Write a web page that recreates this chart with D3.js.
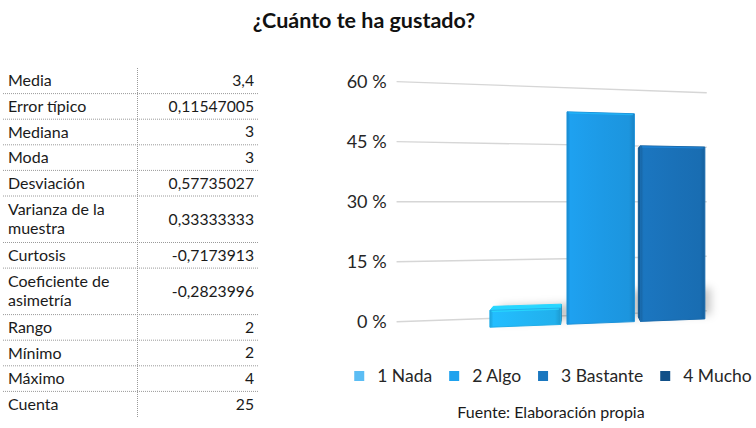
<!DOCTYPE html>
<html>
<head>
<meta charset="utf-8">
<script src="https://cdn.jsdelivr.net/npm/d3@7"></script>
<style>
  body { margin: 0; background: #ffffff; }
  svg { display: block; }
</style>
</head>
<body>
<svg id="chart" width="756" height="428"></svg>
<script>
// ---- data ----
const chartTitle = "¿Cuánto te ha gustado?";
const statNames = [
  ["Media"], ["Error típico"], ["Mediana"], ["Moda"], ["Desviación"],
  ["Varianza de la", "muestra"], ["Curtosis"], ["Coeficiente de", "asimetría"],
  ["Rango"], ["Mínimo"], ["Máximo"], ["Cuenta"]
];
const statValues = [
  "3,4", "0,11547005", "3", "3", "0,57735027", "0,33333333",
  "-0,7173913", "-0,2823996", "2", "2", "4", "25"
];
const series = ["1 Nada", "2 Algo", "3 Bastante", "4 Mucho"];
const shares = [4, 52, 44, 0];
const yTicks = [0, 15, 30, 45, 60];
const yTickLabels = ["0 %", "15 %", "30 %", "45 %", "60 %"];
const sourceNote = "Fuente: Elaboración propia";

// ---- styles ----
const FONT = "Lato, 'Open Sans', 'Noto Sans', sans-serif";
const barColors = ["#22b6f5", "#1d9ae6", "#1a71b8", "#135a96"];
const legendColors = ["#5bbdf4", "#1fa2ee", "#1a77bf", "#115088"];

const svg = d3.select("#chart");
const defs = svg.append("defs");

// ---- title ----
svg.append("text")
  .attr("x", 364).attr("y", 28)
  .attr("text-anchor", "middle")
  .attr("font-family", FONT).attr("font-weight", 700).attr("font-size", 21.5)
  .attr("fill", "#111")
  .text(chartTitle);

// ---- statistics table ----
const table = svg.append("g");
const tableTop = 68, tableLeft = 3, tableRight = 258, dividerX = 137.5;
let yAcc = tableTop;
const rows = statNames.map((lines, i) => {
  const h = lines.length === 1 ? 25.6 : 46.5;
  const r = { lines, value: statValues[i], y0: yAcc, h };
  yAcc += h;
  return r;
});
const tableBottom = yAcc;

rows.forEach((r, i) => {
  if (i < rows.length - 1) {
    table.append("line")
      .attr("x1", tableLeft).attr("x2", tableRight)
      .attr("y1", r.y0 + r.h).attr("y2", r.y0 + r.h)
      .attr("stroke", "#9a9a9a").attr("stroke-width", 1)
      .attr("stroke-dasharray", "1,1");
  }
  const cy = r.y0 + r.h / 2;
  r.lines.forEach((ln, j) => {
    const off = r.lines.length === 1 ? 0 : (j === 0 ? -9.5 : 9.5);
    table.append("text")
      .attr("x", 8).attr("y", cy + off).attr("dy", "0.35em")
      .attr("font-family", FONT).attr("font-size", 16).attr("fill", "#1a1a1a")
      .text(ln);
  });
  table.append("text")
    .attr("x", 254).attr("y", cy).attr("dy", "0.35em")
    .attr("text-anchor", "end")
    .attr("font-family", FONT).attr("font-size", 15.7).attr("fill", "#1a1a1a")
    .text(r.value);
});
table.append("line")
  .attr("x1", dividerX).attr("x2", dividerX)
  .attr("y1", tableTop).attr("y2", tableBottom)
  .attr("stroke", "#9a9a9a").attr("stroke-width", 1)
  .attr("stroke-dasharray", "1,1");

// ---- 3D column chart ----
// world scales: X along the back wall, Y in value units, Z toward the viewer
const yW = d3.scaleLinear().domain([0, 60]).range([0, 60]);
const xW = d3.scaleBand().domain(series).range([23.2, 94.25]).paddingInner(0.085);
const wallStart = -0.8, wallEnd = 79;
const zFront = 8.65, barDepth = 4.4;

// perspective camera
const cam = { cx: 650, cy: 201.7, f: 465, theta: Math.atan2(70, 465), ox: -62.5, oz: 116.25, eye: yW(30) };
const cosT = Math.cos(cam.theta), sinT = Math.sin(cam.theta);
function toCamera([X, Y, Z]) {
  return [cam.ox + X * cosT + Z * sinT, Y - cam.eye, cam.oz + X * sinT - Z * cosT];
}
function project(p) {
  const [xc, yc, zc] = toCamera(p);
  return [cam.cx + cam.f * xc / zc, cam.cy - cam.f * yc / zc];
}
function normalToCamera([nx, ny, nz]) {
  return [nx * cosT + nz * sinT, ny, nx * sinT - nz * cosT];
}
const line = d3.line();
const poly = pts => line(pts.map(project)) + "Z";

// gridlines on the back wall + value labels
const grid = svg.append("g");
yTicks.forEach((t, i) => {
  const a = project([wallStart, yW(t), 0]);
  const b = project([wallEnd, yW(t), 0]);
  grid.append("line")
    .attr("x1", a[0]).attr("y1", a[1]).attr("x2", b[0]).attr("y2", b[1])
    .attr("stroke", "#d6d6d6").attr("stroke-width", 1.4);
  grid.append("text")
    .attr("x", a[0] - 10).attr("y", a[1]).attr("dy", "0.35em")
    .attr("text-anchor", "end")
    .attr("font-family", FONT).attr("font-size", 18).attr("fill", "#262626")
    .text(yTickLabels[i]);
});

// soft shadow behind the columns
const blur = defs.append("filter").attr("id", "soft").attr("x", "-50%").attr("y", "-50%").attr("width", "200%").attr("height", "200%");
blur.append("feGaussianBlur").attr("stdDeviation", 4);

const bars = series.map((s, i) => ({ s, v: shares[i], i }))
  .filter(d => d.v > 0)
  .map(d => {
    const x0 = xW(d.s), x1 = x0 + xW.bandwidth();
    const cz = toCamera([(x0 + x1) / 2, 0, zFront])[2];
    return { ...d, x0, x1, y1: yW(d.v), cz };
  });

const shadowG = svg.append("g").attr("filter", "url(#soft)");
bars.forEach(b => {
  const h = yW(Math.min(b.v, 7));
  shadowG.append("path")
    .attr("d", poly([[b.x0 + 1.5, 0, zFront - barDepth], [b.x1 + 2.8, 0, zFront - barDepth],
                     [b.x1 + 2.8, h, zFront - barDepth], [b.x0 + 1.5, h, zFront - barDepth]]))
    .attr("fill", "#000").attr("opacity", 0.22);
});

// columns, far ones first
const barG = svg.append("g");
bars.sort((a, b) => b.cz - a.cz).forEach(b => {
  const base = d3.color(barColors[b.i]);
  const z0 = zFront - barDepth, z1 = zFront;
  const faces = [
    { n: [-1, 0, 0], pts: [[b.x0, 0, z0], [b.x0, 0, z1], [b.x0, b.y1, z1], [b.x0, b.y1, z0]], fill: base.darker(0.7) },
    { n: [1, 0, 0],  pts: [[b.x1, 0, z1], [b.x1, 0, z0], [b.x1, b.y1, z0], [b.x1, b.y1, z1]], fill: base.darker(0.8) },
    { n: [0, 1, 0],  pts: [[b.x0, b.y1, z1], [b.x1, b.y1, z1], [b.x1, b.y1, z0], [b.x0, b.y1, z0]], fill: base.brighter(0.45) }
  ];
  const g = barG.append("g");
  faces.forEach(f => {
    const nc = normalToCamera(f.n);
    const c = toCamera(f.pts.reduce((acc, p) => [acc[0] + p[0] / 4, acc[1] + p[1] / 4, acc[2] + p[2] / 4], [0, 0, 0]));
    const vis = -(nc[0] * c[0] + nc[1] * c[1] + nc[2] * c[2]);
    if (vis > 0) {
      g.append("path").attr("d", poly(f.pts))
        .attr("fill", f.fill).attr("stroke", f.fill).attr("stroke-width", 1)
        .attr("stroke-linejoin", "round");
    }
  });
  // front face with a soft bevel gradient
  const gid = "front" + b.i;
  const grad = defs.append("linearGradient").attr("id", gid)
    .attr("x1", 0).attr("x2", 1).attr("y1", 0).attr("y2", 0);
  [[0, base.darker(0.35)], [0.05, base.brighter(0.12)], [0.5, base], [0.92, base.darker(0.1)], [1, base.darker(0.45)]]
    .forEach(([o, c]) => grad.append("stop").attr("offset", o).attr("stop-color", c));
  const front = [[b.x0, 0, z1], [b.x1, 0, z1], [b.x1, b.y1, z1], [b.x0, b.y1, z1]];
  g.append("path").attr("d", poly(front))
    .attr("fill", `url(#${gid})`).attr("stroke", base.darker(0.15)).attr("stroke-width", 1)
    .attr("stroke-linejoin", "round");
  // highlight along the top edge
  const hl = [[b.x0 + 0.4, b.y1, z1], [b.x1 - 0.4, b.y1, z1]].map(project);
  g.append("line")
    .attr("x1", hl[0][0]).attr("y1", hl[0][1] + 1).attr("x2", hl[1][0]).attr("y2", hl[1][1] + 1)
    .attr("stroke", base.brighter(0.6)).attr("stroke-width", 1.2).attr("opacity", 0.7);
});

// ---- legend ----
const legend = svg.append("g");
let lx = 0;
series.forEach((s, i) => {
  const item = legend.append("g").attr("transform", `translate(${lx},0)`);
  item.append("rect").attr("x", 0).attr("y", -5).attr("width", 10).attr("height", 10)
    .attr("fill", legendColors[i]);
  const t = item.append("text").attr("x", 23).attr("y", 0).attr("dy", "0.35em")
    .attr("font-family", FONT).attr("font-size", 17.5).attr("fill", "#262626")
    .text(s);
  lx += 23 + t.node().getComputedTextLength() + 17;
});
const legendWidth = lx - 17;
legend.attr("transform", `translate(${553 - legendWidth / 2},376)`);

// ---- source note ----
svg.append("text")
  .attr("x", 551).attr("y", 418)
  .attr("text-anchor", "middle")
  .attr("font-family", FONT).attr("font-size", 16).attr("fill", "#1a1a1a")
  .text(sourceNote);
</script>
</body>
</html>
